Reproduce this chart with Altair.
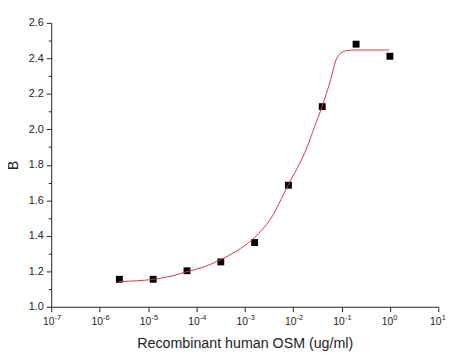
import altair as alt
import pandas as pd

# measured points
conc = [2.56e-6, 1.28e-5, 6.4e-5, 3.2e-4, 1.6e-3, 8e-3, 0.04, 0.2, 1.0]
resp = [1.155, 1.155, 1.203, 1.253, 1.362, 1.685, 2.128, 2.480, 2.412]

# fitted curve
fit_x = [2.52e-6, 6.12e-6, 1.29e-5, 3.14e-5, 6.34e-5, 1.40e-4, 3.21e-4, 6.56e-4,
         1.60e-3, 3.37e-3, 7.82e-3, 1.91e-2, 2.75e-2, 3.96e-2, 6.04e-2, 7.62e-2,
         9.64e-2, 0.131, 0.179, 0.457, 0.966]
fit_y = [1.142, 1.147, 1.155, 1.174, 1.198, 1.224, 1.266, 1.312,
         1.391, 1.493, 1.684, 1.895, 2.012, 2.128, 2.286, 2.388,
         2.430, 2.444, 2.447, 2.447, 2.447]

x_ticks = [1e-7, 1e-6, 1e-5, 1e-4, 1e-3, 1e-2, 1e-1, 1e0, 1e1]
y_ticks = [1.0, 1.2, 1.4, 1.6, 1.8, 2.0, 2.2, 2.4, 2.6]
y_minor = [1.1, 1.3, 1.5, 1.7, 1.9, 2.1, 2.3, 2.5]

pts = pd.DataFrame({"x": conc, "y": resp})
fit = pd.DataFrame({"x": fit_x, "y": fit_y})

FONT = "Liberation Sans"
exp_expr = "'' + round(log(datum.value)/LN10)"

xscale = alt.Scale(type="log", domain=[1e-7, 10])
yscale = alt.Scale(domain=[1.0, 2.6], zero=False, nice=False)

# main x axis: base "10" + title
x_main = alt.Axis(values=x_ticks, labelExpr="'10'", orient="bottom",
                  title="Recombinant human OSM (ug/ml)",
                  tickSize=5, labelPadding=5, titlePadding=10,
                  labelFontSize=10.5, titleFontSize=14.5, labelFlush=False,
                  labelOffset=-3)
# exponent axis (superscripts)
x_exp = alt.Axis(values=x_ticks, labelExpr=exp_expr, orient="bottom", title=None,
                 domain=False, ticks=False, tickSize=0, labelPadding=7,
                 labelFontSize=7.5, labelAlign="left", labelOffset=3,
                 labelFlush=False)

points = alt.Chart(pts).mark_square(size=49, color="black", opacity=1).encode(
    x=alt.X("x:Q", scale=xscale, axis=x_main),
    y=alt.Y("y:Q", scale=yscale,
            axis=alt.Axis(values=y_ticks, format=".1f", title="B", orient="left",
                          tickSize=5, labelPadding=3, titlePadding=8,
                          labelFontSize=11, titleFontSize=14)),
)

curve = alt.Chart(fit).mark_line(color="#cc3a4a", strokeWidth=1,
                                 interpolate="monotone").encode(
    x=alt.X("x:Q", scale=xscale, axis=x_exp),
    y=alt.Y("y:Q", scale=yscale,
            axis=alt.Axis(values=y_minor, labels=False, title=None, domain=False,
                          orient="left", tickSize=3)),
)

chart = alt.layer(points, curve).resolve_axis(x="independent", y="independent").properties(
    width=394, height=289,
    autosize=alt.AutoSizeParams(type="none"),
    padding={"left": 44, "top": 12, "right": 16, "bottom": 50},
).configure_axis(
    grid=False, domainColor="#222", tickColor="#222", labelColor="#222",
    titleColor="#222", labelFont=FONT, titleFont=FONT, titleFontWeight="normal",
    domainWidth=1, tickWidth=1,
).configure_view(stroke=None)

chart.save("out.html", embed_options={"renderer": "svg", "actions": False})
